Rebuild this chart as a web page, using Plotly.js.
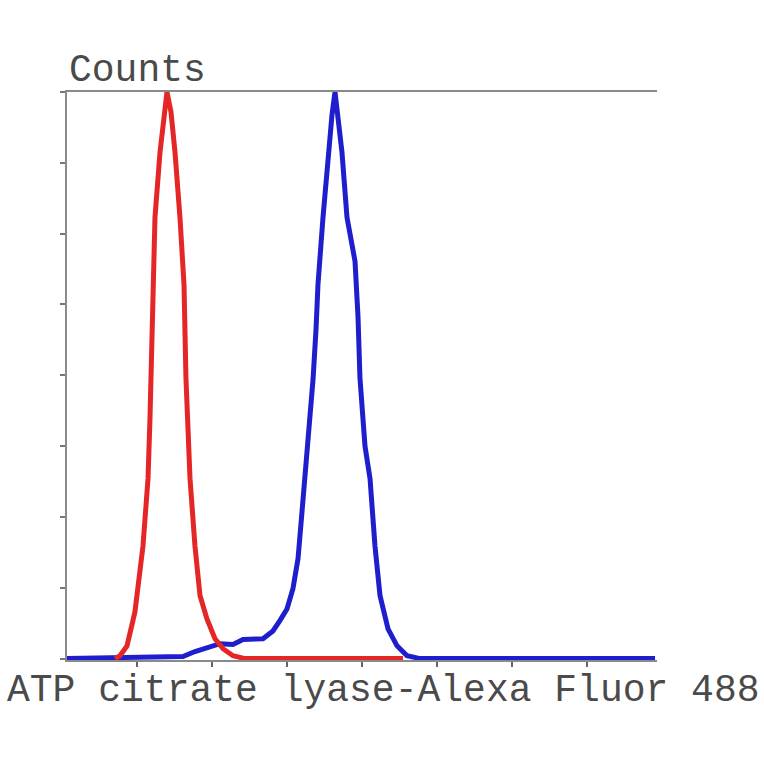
<!DOCTYPE html>
<html>
<head>
<meta charset="utf-8">
<script src="https://cdn.plot.ly/plotly-3.0.1.min.js"></script>
<style>html,body{margin:0;padding:0;background:#fff;}#chart{width:764px;height:764px;}</style>
</head>
<body>
<div id="chart"></div>
<script>
// Control (red) histogram
var redX = [0.707, 0.773, 0.867, 0.973, 1.08, 1.147, 1.173, 1.187, 1.2, 1.213, 1.24, 1.307, 1.36, 1.4,
            1.453, 1.507, 1.573, 1.627, 1.653, 1.707, 1.773, 1.84, 1.933, 2.04, 2.147, 2.28, 2.44, 4.547];
var redY = [0, 0.04, 0.18, 0.66, 1.59, 2.54, 3.38, 3.97, 4.65, 5.28, 6.23, 7.15, 7.68, 8.0,
            7.72, 7.15, 6.23, 5.28, 3.96, 2.54, 1.59, 0.89, 0.56, 0.28, 0.14, 0.04, 0, 0];
// Stained sample (blue) histogram
var blueX = [0, 1.613, 1.773, 1.973, 2.107, 2.28, 2.413, 2.68, 2.813, 2.907, 3.0, 3.08, 3.147, 3.2, 3.24,
             3.28, 3.347, 3.387, 3.413, 3.48, 3.547, 3.6, 3.64, 3.68, 3.733, 3.8, 3.853, 3.907, 3.947,
             3.973, 4.04, 4.107, 4.173, 4.24, 4.347, 4.467, 4.6, 4.773, 7.907];
var blueY = [0, 0.03, 0.1, 0.17, 0.21, 0.2, 0.27, 0.28, 0.39, 0.54, 0.7, 0.99, 1.41, 2.07, 2.54,
             3.0, 3.94, 4.65, 5.28, 6.23, 7.15, 7.68, 8.0, 7.68, 7.15, 6.23, 5.92, 5.61, 4.82,
             3.96, 3.0, 2.54, 1.59, 0.89, 0.42, 0.18, 0.04, 0, 0];
var xTicks = [1, 2, 3, 4, 5, 6, 7];
var yTicks = [0, 1, 2, 3, 4, 5, 6, 7, 8];
var yTitle = "Counts";
var xTitle = "ATP citrate lyase-Alexa Fluor 488";

var traces = [
  {x: blueX, y: blueY, type: 'scatter', mode: 'lines', line: {color: 'rgb(30,30,205)', width: 5}, hoverinfo: 'skip'},
  {x: redX, y: redY, type: 'scatter', mode: 'lines', line: {color: 'rgb(228,38,38)', width: 5}, hoverinfo: 'skip'}
];
var textFont = {family: 'Liberation Mono, monospace', size: 38, color: '#4a4a4a'};
var layout = {
  width: 764, height: 764,
  margin: {l: 67, r: 107, t: 92, b: 104},
  paper_bgcolor: '#fff', plot_bgcolor: '#fff',
  showlegend: false,
  xaxis: {range: [0.067, 7.933], tickvals: xTicks, ticks: 'outside', ticklen: 5, tickwidth: 2,
          tickcolor: '#666', showticklabels: false, showgrid: false, zeroline: false,
          showline: true, linecolor: '#8a8a8a', linewidth: 2, mirror: true, layer: 'below traces'},
  yaxis: {range: [-0.02, 8], tickvals: yTicks, ticks: 'outside', ticklen: 5, tickwidth: 2,
          tickcolor: '#777', showticklabels: false, showgrid: false, zeroline: false,
          showline: true, linecolor: '#8a8a8a', linewidth: 2, layer: 'below traces'},
  annotations: [
    {text: yTitle, xref: 'paper', yref: 'paper', x: 0.0, y: 1.0387, xanchor: 'left', yanchor: 'middle',
     showarrow: false, font: textFont},
    {text: xTitle, xref: 'paper', yref: 'paper', x: 0.536, y: -0.0545, xanchor: 'center', yanchor: 'middle',
     showarrow: false, font: textFont}
  ]
};
Plotly.newPlot('chart', traces, layout, {staticPlot: true, displayModeBar: false});
</script>
</body>
</html>
